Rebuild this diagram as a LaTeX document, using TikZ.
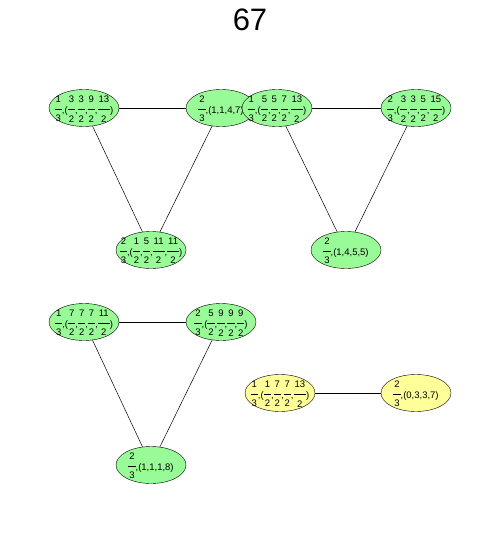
\documentclass[tikz,border=0pt]{standalone}
\usepackage{fontspec}
\setmainfont{Liberation Sans}
\definecolor{vgreen}{HTML}{98FB98}
\definecolor{vyellow}{HTML}{FFFF99}
\newcommand\fr[2]{\raisebox{2.4pt}{$\vcenter{\hbox{\vbox{\halign{\hfil\kern1pt##\kern1pt\hfil\cr #1\cr\noalign{\kern6.5pt\hrule height 0.5pt\kern6pt}#2\cr}}}}$}}
\newcommand\lbl[1]{\raisebox{-5.5pt}[0pt][0pt]{\makebox[0pt]{#1}}}
\tikzset{
  vert/.style={ellipse, draw=black, fill=vgreen, minimum width=70pt, minimum height=37pt, inner sep=0pt, font=\fontsize{9.5}{10}\selectfont},
  yvert/.style={vert, fill=vyellow},
  edge/.style={draw=black, line width=0.5pt}
}
\usetikzlibrary{shapes.geometric}
\begin{document}
\begin{tikzpicture}[x=1pt,y=-1pt]
\useasboundingbox (0,0) rectangle (500,538);
\node[font=\fontsize{31}{34}\selectfont] (title) at (250,20) {67};
\node[vert] (A) at (84,108) {\lbl{\fr{1}{3},(\fr{3}{2},\fr{3}{2},\fr{9}{2},\fr{13}{2})}};
\node[vert] (B) at (221,108) {\lbl{\fr{2}{3},(1,1,4,7)}};
\node[vert] (C) at (277,108) {\lbl{\fr{1}{3},(\fr{5}{2},\fr{5}{2},\fr{7}{2},\fr{13}{2})}};
\node[vert] (D) at (416,108) {\lbl{\fr{2}{3},(\fr{3}{2},\fr{3}{2},\fr{5}{2},\fr{15}{2})}};
\node[vert] (E) at (151,250) {\lbl{\fr{2}{3},(\fr{1}{2},\fr{5}{2},\fr{11}{2},\fr{11}{2})}};
\node[vert] (F) at (346,250) {\lbl{\fr{2}{3},(1,4,5,5)}};
\node[vert] (G) at (84,322) {\lbl{\fr{1}{3},(\fr{7}{2},\fr{7}{2},\fr{7}{2},\fr{11}{2})}};
\node[vert] (H) at (221,322) {\lbl{\fr{2}{3},(\fr{5}{2},\fr{9}{2},\fr{9}{2},\fr{9}{2})}};
\node[vert] (I) at (151,465) {\lbl{\fr{2}{3},(1,1,1,8)}};
\node[yvert] (J) at (280,393) {\lbl{\fr{1}{3},(\fr{1}{2},\fr{7}{2},\fr{7}{2},\fr{13}{2})}};
\node[yvert] (K) at (416,393) {\lbl{\fr{2}{3},(0,3,3,7)}};
\draw[edge] (A) -- (B);
\draw[edge] (A) -- (E);
\draw[edge] (B) -- (E);
\draw[edge] (C) -- (D);
\draw[edge] (C) -- (F);
\draw[edge] (D) -- (F);
\draw[edge] (G) -- (H);
\draw[edge] (G) -- (I);
\draw[edge] (H) -- (I);
\draw[edge] (J) -- (K);
\end{tikzpicture}
\end{document}
